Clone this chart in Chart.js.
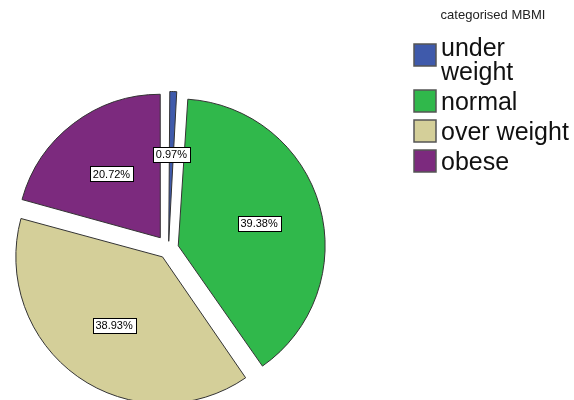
<!DOCTYPE html>
<html>
<head>
<meta charset="utf-8">
<script src="https://cdn.jsdelivr.net/npm/chart.js@4"></script>
<style>
  body { margin: 0; background: #fff; }
  #wrap { width: 574px; height: 400px; }
</style>
</head>
<body>
<div id="wrap"><canvas id="myChart" width="574" height="400"></canvas></div>
<script>
// categories and percentages
const categories = ['under weight', 'normal', 'over weight', 'obese'];
const percentValues = [0.97, 39.38, 38.93, 20.72];
const sliceColors = ['#3f5aab', '#30b84b', '#d4cf99', '#7c2a7e'];
const legendTitle = 'categorised MBMI';

const FONT = '"Liberation Sans", Arial, sans-serif';
const EXPLODE = 14; // px each slice is pulled out

// Chart.js v4 arcs move by offset/4 * (2 - sin(circumference)), so undo that
function sliceOffset(c) {
    const total = percentValues.reduce((a, b) => a + b, 0);
    const circ = c.parsed / total * 2 * Math.PI;
    return 4 * EXPLODE / (2 - Math.sin(Math.min(Math.PI, circ)));
}

// white boxed percentage labels inside each slice
const sliceLabels = {
    id: 'sliceLabels',
    afterDatasetsDraw(chart) {
        const ctx = chart.ctx;
        const meta = chart.getDatasetMeta(0);
        ctx.save();
        ctx.font = '11px ' + FONT;
        ctx.textAlign = 'center';
        ctx.textBaseline = 'middle';
        meta.data.forEach(function(arc, i) {
            const mid = (arc.startAngle + arc.endAngle) / 2;
            const dist = EXPLODE + arc.outerRadius * 0.56;
            const x = arc.x + Math.cos(mid) * dist;
            const y = arc.y + Math.sin(mid) * dist;
            const txt = percentValues[i].toFixed(2) + '%';
            const w = Math.round(ctx.measureText(txt).width + 6);
            const h = 15;
            const bx = Math.round(x - w / 2) + 0.5, by = Math.round(y - h / 2) + 0.5;
            ctx.fillStyle = '#fff';
            ctx.fillRect(bx, by, w, h);
            ctx.strokeStyle = '#000';
            ctx.lineWidth = 1;
            ctx.strokeRect(bx, by, w, h);
            ctx.fillStyle = '#000';
            ctx.fillText(txt, x, y + 1);
        });
        ctx.restore();
    }
};

// legend on the right, with wrapping of long names
const sideLegend = {
    id: 'sideLegend',
    afterDraw(chart) {
        const ctx = chart.ctx;
        const ds = chart.data.datasets[0];
        ctx.save();
        ctx.font = '13px ' + FONT;
        ctx.fillStyle = '#222';
        ctx.textAlign = 'center';
        ctx.textBaseline = 'middle';
        ctx.fillText(legendTitle, 493, 15);

        ctx.font = '25px ' + FONT;
        ctx.textAlign = 'left';
        const textX = 441, boxX = 414, maxW = 574 - textX - 2;
        let y = 49;
        chart.data.labels.forEach(function(label, i) {
            // split into lines that fit
            const words = label.split(' ');
            const lines = [];
            let cur = '';
            words.forEach(function(wd) {
                const test = cur ? cur + ' ' + wd : wd;
                if (cur && ctx.measureText(test).width > maxW) {
                    lines.push(cur);
                    cur = wd;
                } else {
                    cur = test;
                }
            });
            lines.push(cur);
            const boxMid = y + (lines.length - 1) * 8 - 2;
            ctx.fillStyle = ds.backgroundColor[i];
            ctx.fillRect(boxX, boxMid - 11, 22, 22);
            ctx.strokeStyle = '#555';
            ctx.lineWidth = 1.5;
            ctx.strokeRect(boxX, boxMid - 11, 22, 22);
            ctx.fillStyle = '#111';
            lines.forEach(function(ln, j) {
                ctx.fillText(ln, textX, y + j * 24);
            });
            y += (lines.length - 1) * 24 + 30;
        });
        ctx.restore();
    }
};

const ctx = document.getElementById('myChart').getContext('2d');
const myChart = new Chart(ctx, {
    type: 'pie',
    data: {
        labels: categories,
        datasets: [{
            data: percentValues,
            backgroundColor: sliceColors,
            borderColor: '#333',
            borderWidth: 1,
            offset: sliceOffset,
            radius: 143,
            clip: false
        }]
    },
    options: {
        responsive: false,
        animation: false,
        layout: {
            padding: { left: 0, right: 237, top: 97, bottom: 0 }
        },
        plugins: {
            legend: { display: false },
            tooltip: { enabled: false }
        }
    },
    plugins: [sliceLabels, sideLegend]
});
</script>
</body>
</html>
